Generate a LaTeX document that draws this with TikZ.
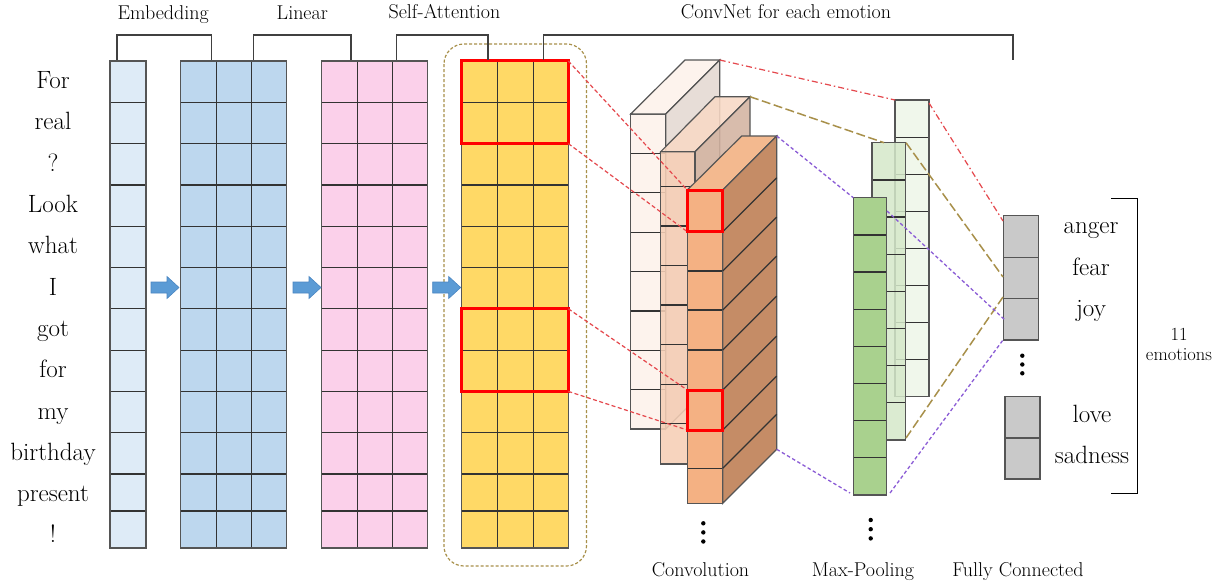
\documentclass[tikz,border=0pt]{standalone}
\usetikzlibrary{calc}
\definecolor{embc}{HTML}{DEEBF7}
\definecolor{linc}{HTML}{BDD7EE}
\definecolor{pinkc}{HTML}{FBD0EA}
\definecolor{yelc}{HTML}{FFD966}
\definecolor{arrc}{HTML}{5B9BD5}
\definecolor{arrd}{HTML}{4A86C2}
\definecolor{cAf}{HTML}{FDF3ED}
\definecolor{cAs}{HTML}{E7DDD7}
\definecolor{cBf}{HTML}{F6CFB6}
\definecolor{cBt}{HTML}{F8D9C5}
\definecolor{cBs}{HTML}{D3B3A1}
\definecolor{cCf}{HTML}{F4B183}
\definecolor{cCt}{HTML}{F3B98F}
\definecolor{cCs}{HTML}{C58C66}
\definecolor{gA}{HTML}{F0F7EB}
\definecolor{gB}{HTML}{D5E8CA}
\definecolor{gC}{HTML}{A9D18E}
\definecolor{fcc}{HTML}{C9C9C9}
\definecolor{olivec}{HTML}{A8904A}
\definecolor{purpc}{HTML}{8B5CD6}
\definecolor{brc}{HTML}{404040}
\definecolor{gridc}{HTML}{333333}
\definecolor{outc}{HTML}{555555}
\definecolor{redc}{HTML}{FF0000}
\definecolor{rdash}{HTML}{E5484D}
\tikzset{
  gridl/.style={draw=gridc, line width=1.2pt},
  gridout/.style={draw=outc, line width=1.5pt},
  bracketl/.style={draw=brc, line width=1.4pt},
  redbox/.style={draw=redc, line width=3pt},
  reddashed/.style={draw=rdash, line width=1.2pt, dash pattern=on 4pt off 2.5pt},
  reddashdot/.style={draw=rdash, line width=1.2pt, dash pattern=on 6pt off 3pt on 1.5pt off 3pt},
  olivedash/.style={draw=olivec, line width=1.5pt, dash pattern=on 9pt off 3.5pt},
  purpdash/.style={draw=purpc, line width=1.3pt, dash pattern=on 3.5pt off 2.5pt},
  word/.style={font=\fontsize{25}{28}\selectfont, anchor=base, inner sep=0pt},
  toplabel/.style={font=\fontsize{20}{22}\selectfont, anchor=base, inner sep=0pt},
  emo/.style={font=\fontsize{25}{28}\selectfont, anchor=base, inner sep=0pt},
  smalllabel/.style={font=\fontsize{18.5}{20}\selectfont, anchor=base, inner sep=0pt},
  fcbox/.style={draw=outc, line width=1.5pt, fill=fcc, minimum width=35.4pt, inner sep=0pt},
}
\def\rowsY{102.3,143.6,184.9,226.2,267.5,308.8,350.1,391.4,432.7,474,511}
\newcommand\gridblock[4]{%
  \fill[#4] (#1,61) rectangle (#2,548);
  \foreach \yy in \rowsY {\draw[gridl] (#1,\yy) -- (#2,\yy);}
  \foreach \xx in {#3} {\draw[gridl] (\xx,61) -- (\xx,548);}
  \draw[gridout] (#1,61) rectangle (#2,548);}
\begin{document}
\begin{tikzpicture}[x=1pt,y=-1pt]
\useasboundingbox (0,0) rectangle (1225,586);
\fill[white] (0,0) rectangle (1225,586);

% words
\foreach \w [count=\i from 0] in {For,real,?,Look,what,I,got,for,my,birthday,present,!}
  \node[word] (w\i) at (53,88.6+41.3*\i) {\w};

% embedding column
\fill[embc] (110,61) rectangle (146,548);
\foreach \yy in \rowsY {\draw[gridl] (110,\yy) -- (146,\yy);}
\draw[gridout] (110,61) rectangle (146,548);

\gridblock{180.3}{286.7}{216.3,251.7}{linc}
\gridblock{321.7}{427.3}{357.3,392.3}{pinkc}
\gridblock{461.7}{568.3}{497.7,533.3}{yelc}

% dashed rounded group
\draw[olivec, line width=1.2pt, dash pattern=on 3pt off 2pt, rounded corners=20pt] (444,44) rectangle (586.5,566);

% arrows
\foreach \dx in {0,142,281.7}
  \filldraw[fill=arrc, draw=arrd, line width=0.6pt, shift={(\dx,0)}]
    (151,282) -- (167,282) -- (167,276.5) -- (179,287.5) -- (167,298.5) -- (167,293) -- (151,293) -- cycle;

% red boxes on self-attention
\coordinate (ya1) at (461.7,61);   \coordinate (yb1) at (568.3,143.6);
\coordinate (ya2) at (461.7,308.8); \coordinate (yb2) at (568.3,391.4);
\draw[redbox] (ya1) rectangle (yb1);
\draw[redbox] (ya2) rectangle (yb2);

% brackets and top labels
\draw[bracketl] (117,60) -- (117,35) -- (211.6,35) -- (211.6,60);
\draw[bracketl] (253.3,60) -- (253.3,35) -- (351,35) -- (351,60);
\draw[bracketl] (396.5,60) -- (396.5,35) -- (488,35) -- (488,60);
\draw[bracketl] (543.4,60) -- (543.4,35) -- (1013,35) -- (1013,60);
\node[toplabel] (lemb) at (163.2,19.5) {Embedding};
\node[toplabel] (llin) at (302.3,19.5) {Linear};
\node[toplabel] (lsa) at (444.5,19) {Self-Attention};
\node[toplabel] (lcnn) at (786,18.5) {ConvNet for each emotion};

% ---- conv block A (back)
\fill[cAf] (630.7,114) rectangle (665.7,429);
\foreach \yy in {153.4,192.8,232.2,271.6,311,350.4,389.8} {\draw[gridl] (630.7,\yy) -- (665.7,\yy);}
\draw[gridout] (630.7,114) rectangle (665.7,429);
\filldraw[fill=cAf, draw=outc, line width=1.2pt] (630.7,114) -- (685,60) -- (719.7,60) -- (665.7,114) -- cycle;
\filldraw[fill=cAs, draw=outc, line width=1.2pt] (665.7,114) -- (719.7,60) -- (719.7,375) -- (665.7,429) -- cycle;
\coordinate (cAtr) at (719.7,60);

% ---- conv block B (middle)
\begin{scope}[fill opacity=0.88]
\fill[cBf] (660.7,151.7) rectangle (695,464);
\filldraw[fill=cBt, draw=outc, line width=1.2pt] (660.7,151.7) -- (715,96.7) -- (750,96.7) -- (695,151.7) -- cycle;
\filldraw[fill=cBs, draw=outc, line width=1.2pt] (695,151.7) -- (750,96.7) -- (750,409) -- (695,464) -- cycle;
\end{scope}
\foreach \yy in {186.7,226,265.7,305,344.3,384.3,423.3} {\draw[gridl] (660.7,\yy) -- (695,\yy);}
\draw[gridout] (660.7,151.7) rectangle (695,464);
\coordinate (cBtr) at (750,96.7);

% red dashed projections
\coordinate (ra1) at (687.3,190);   \coordinate (rb1) at (722.7,231.7);
\coordinate (ra2) at (687.3,390);   \coordinate (rb2) at (722.7,430);
\draw[reddashed] (568.3,61) -- (ra1);
\draw[reddashed] (yb1) -- (687.3,231.7);
\draw[reddashed] (568.3,308.8) -- (ra2);
\draw[reddashed] (yb2) -- (687.3,430);

% ---- conv block C (front)
\fill[cCf] (687.3,190) rectangle (722.7,503.3);
\foreach \yy in {231.7,271,310,350,390,430,468.3} {\draw[gridl] (687.3,\yy) -- (722.7,\yy);}
\draw[gridout] (687.3,190) rectangle (722.7,503.3);
\filldraw[fill=cCt, draw=outc, line width=1.2pt] (687.3,190) -- (741.7,136) -- (776.7,136) -- (722.7,190) -- cycle;
\filldraw[fill=cCs, draw=outc, line width=1.2pt] (722.7,190) -- (776.7,136) -- (776.7,449.3) -- (722.7,503.3) -- cycle;
\foreach \yy in {231.7,271,310,350,390,430,468.3} {\draw[gridl] (722.7,\yy) -- (776.7,\yy-54);}
\draw[redbox] (ra1) rectangle (rb1);
\draw[redbox] (ra2) rectangle (rb2);
\coordinate (cCtr) at (776.7,136);
\coordinate (cCbr) at (776.7,449.3);

% dots
\foreach \yy in {523.3,532.4,541.5} {\fill (703.3,\yy) circle (2.2);}
\foreach \yy in {520,529.2,538.4} {\fill (870.7,\yy) circle (2.2);}
\foreach \yy in {355.7,364.5,373.3} {\fill (1022.3,\yy) circle (2.2);}

% ---- green columns (max-pooling)
\fill[gA] (895,100) rectangle (929,396.7);
\foreach \yy in {137.1,174.2,211.3,248.3,285.4,322.5,359.6} {\draw[gridl] (895,\yy) -- (929,\yy);}
\draw[gridout] (895,100) rectangle (929,396.7);
\coordinate (gAtl) at (895,100); \coordinate (gAtr) at (929,103);

\fill[gB, fill opacity=0.85] (872,142.7) rectangle (905.3,440);
\foreach \yy in {179.9,217,254.2,291.3,328.5,365.7,402.8} {\draw[gridl] (872,\yy) -- (905.3,\yy);}
\draw[gridout] (872,142.7) rectangle (905.3,440);
\coordinate (gBtl) at (884,142.7); \coordinate (gBtr) at (906,142.7); \coordinate (gBbr) at (906,438);

\fill[gC] (853.3,197.7) rectangle (886.7,495);
\foreach \yy in {234.9,272,309.2,346.3,383.5,420.7,457.8} {\draw[gridl] (853.3,\yy) -- (886.7,\yy);}
\draw[gridout] (853.3,197.7) rectangle (886.7,495);
\coordinate (gCtl) at (853.3,197.7); \coordinate (gCr) at (887,211);
\coordinate (gCbl) at (850,493); \coordinate (gCbr) at (890,493);

% ---- fully connected
\node[fcbox, minimum height=41.6pt] (fc1) at (1021,236.5) {};
\node[fcbox, minimum height=41pt] (fc2) at (1021,277.8) {};
\node[fcbox, minimum height=41.7pt] (fc3) at (1021,319.2) {};
\node[fcbox, minimum height=41pt] (fc4) at (1022.5,417.2) {};
\node[fcbox, minimum height=41.3pt] (fc5) at (1022.5,458.4) {};
\coordinate (fcA) at (1003,221);
\coordinate (fcB) at (1003,277);
\coordinate (fcC) at (1003,297);
\coordinate (fcD) at (1005,320);
\coordinate (fcE) at (1003,340);

% connectors conv -> pool -> fc
\draw[reddashdot] (cAtr) -- (gAtl);
\draw[reddashdot] (gAtr) -- (fcA);
\draw[olivedash] (cBtr) -- (gBtl);
\draw[olivedash] (gBtr) -- (fcB);
\draw[olivedash] (gBbr) -- (fcC);
\draw[purpdash] (cCtr) -- (gCtl);
\draw[purpdash] (gCr) -- (fcD);
\draw[purpdash] (cCbr) -- (gCbl);
\draw[purpdash] (gCbr) -- (fcE);

% emotion labels
\node[emo] (e1) at (1091,233.3) {anger};
\node[emo] (e2) at (1091,275) {fear};
\node[emo] (e3) at (1091,316.7) {joy};
\node[emo] (e4) at (1092,422.3) {love};
\node[emo] (e5) at (1092,463.3) {sadness};

% right bracket
\draw[draw=black, line width=1.4pt] (1111,198.3) -- (1137.3,198.3) -- (1137.3,493.3) -- (1111,493.3);
\node[smalllabel] (n11) at (1179,340) {11};
\node[smalllabel] (nemo) at (1179,360) {emotions};

% bottom labels
\node[toplabel] (bconv) at (700.5,576) {Convolution};
\node[toplabel] (bpool) at (863,576) {Max-Pooling};
\node[toplabel] (bfc) at (1018,576) {Fully Connected};
\end{tikzpicture}
\end{document}
